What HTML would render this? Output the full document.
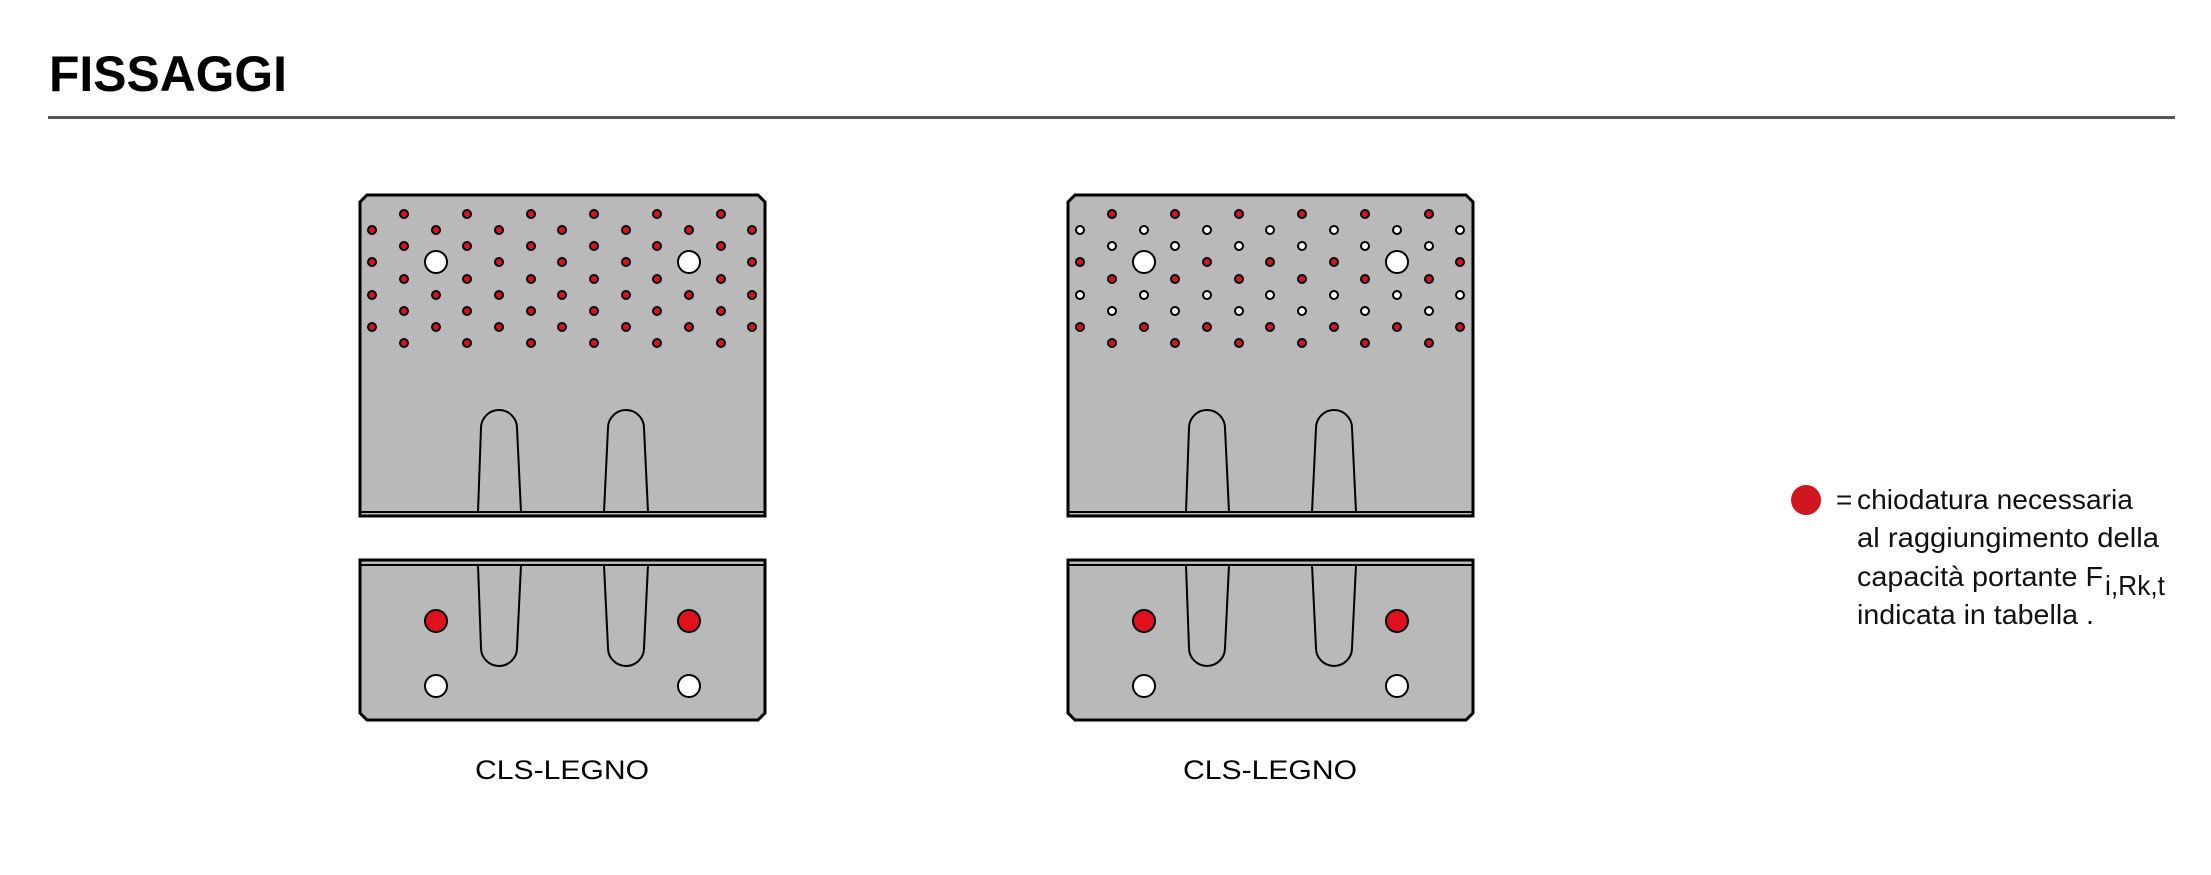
<!DOCTYPE html>
<html><head><meta charset="utf-8"><style>
html,body{margin:0;padding:0;background:#fff;}
svg{display:block;}
text{font-family:"Liberation Sans",sans-serif;}
</style></head><body>
<svg width="2211" height="875" viewBox="0 0 2211 875" xmlns="http://www.w3.org/2000/svg">
<defs>
<g id="plate">
  <!-- upper part -->
  <path d="M367,195 L758,195 L765,202 L765,516 L360,516 L360,202 Z" fill="#b9b9b9" stroke="#000" stroke-width="3"/>
  <line x1="360" y1="512" x2="765" y2="512" stroke="#000" stroke-width="2"/>
  <path d="M478,512 L481,428 A18,18 0 0 1 517,428 L521,512" fill="none" stroke="#000" stroke-width="2"/>
  <path d="M604,512 L608,428 A18,18 0 0 1 644,428 L648,512" fill="none" stroke="#000" stroke-width="2"/>
  <!-- lower part -->
  <path d="M360,560 L765,560 L765,713 L758,720 L367,720 L360,713 Z" fill="#b9b9b9" stroke="#000" stroke-width="3"/>
  <line x1="360" y1="565" x2="765" y2="565" stroke="#000" stroke-width="2"/>
  <path d="M478,565 L481,648 A18,18 0 0 0 517,648 L521,565" fill="none" stroke="#000" stroke-width="2"/>
  <path d="M604,565 L608,648 A18,18 0 0 0 644,648 L648,565" fill="none" stroke="#000" stroke-width="2"/>
  <circle cx="436" cy="262" r="11" fill="#fff" stroke="#000" stroke-width="2"/>
  <circle cx="689" cy="262" r="11" fill="#fff" stroke="#000" stroke-width="2"/>
  <circle cx="436" cy="621" r="11" fill="#e0101c" stroke="#000" stroke-width="2"/>
  <circle cx="689" cy="621" r="11" fill="#e0101c" stroke="#000" stroke-width="2"/>
  <circle cx="436" cy="686" r="11" fill="#fff" stroke="#000" stroke-width="2"/>
  <circle cx="689" cy="686" r="11" fill="#fff" stroke="#000" stroke-width="2"/>
</g>
</defs>

<text x="49" y="91" font-size="50" font-weight="bold" fill="#000" textLength="238" lengthAdjust="spacingAndGlyphs">FISSAGGI</text>
<rect x="48" y="116" width="2127" height="3" fill="#555"/>

<use href="#plate"/>
<use href="#plate" transform="translate(708,0)"/>

<g id="holes" stroke="#000" stroke-width="2"></g>

<text x="475" y="779" font-size="27" fill="#000" textLength="174" lengthAdjust="spacingAndGlyphs">CLS-LEGNO</text>
<text x="1183" y="779" font-size="27" fill="#000" textLength="174" lengthAdjust="spacingAndGlyphs">CLS-LEGNO</text>

<circle cx="1806" cy="500" r="15" fill="#d0161e"/>
<g font-size="28" fill="#111">
<text x="1836" y="509">=</text>
<text x="1857" y="509" textLength="276" lengthAdjust="spacingAndGlyphs">chiodatura necessaria</text>
<text x="1857" y="547" textLength="302" lengthAdjust="spacingAndGlyphs">al raggiungimento della</text>
<text x="1857" y="586" textLength="246" lengthAdjust="spacingAndGlyphs">capacità portante F</text>
<text x="2105" y="595" textLength="60" lengthAdjust="spacingAndGlyphs">i,Rk,t</text>
<text x="1857" y="624" textLength="237" lengthAdjust="spacingAndGlyphs">indicata in tabella .</text>
</g>

<script>
(function(){
var ns="http://www.w3.org/2000/svg";
var g=document.getElementById("holes");
var xs=[372,404,436,467,499,531,562,594,626,657,689,721,752];
var ys=[214,230,246,262,279,295,311,327,343];
// right plate colors per row: true = red
var rightRed=[true,false,false,true,true,false,false,true,true];
for(var p=0;p<2;p++){
 for(var r=0;r<9;r++){
  for(var c=0;c<13;c++){
   var evenCol=(c%2==1); // cols 1,3,.. on rows 0,2,4,...
   if((r%2==0)!=evenCol) continue;
   if(r==3&&(c==2||c==10)) continue;
   var e=document.createElementNS(ns,"circle");
   e.setAttribute("cx",xs[c]+p*708);
   e.setAttribute("cy",ys[r]);
   e.setAttribute("r","4");
   var red=(p==0)?true:rightRed[r];
   e.setAttribute("fill",red?"#e0101c":"#fff");
   g.appendChild(e);
  }
 }
}
})();
</script>
</svg>
</body></html>
